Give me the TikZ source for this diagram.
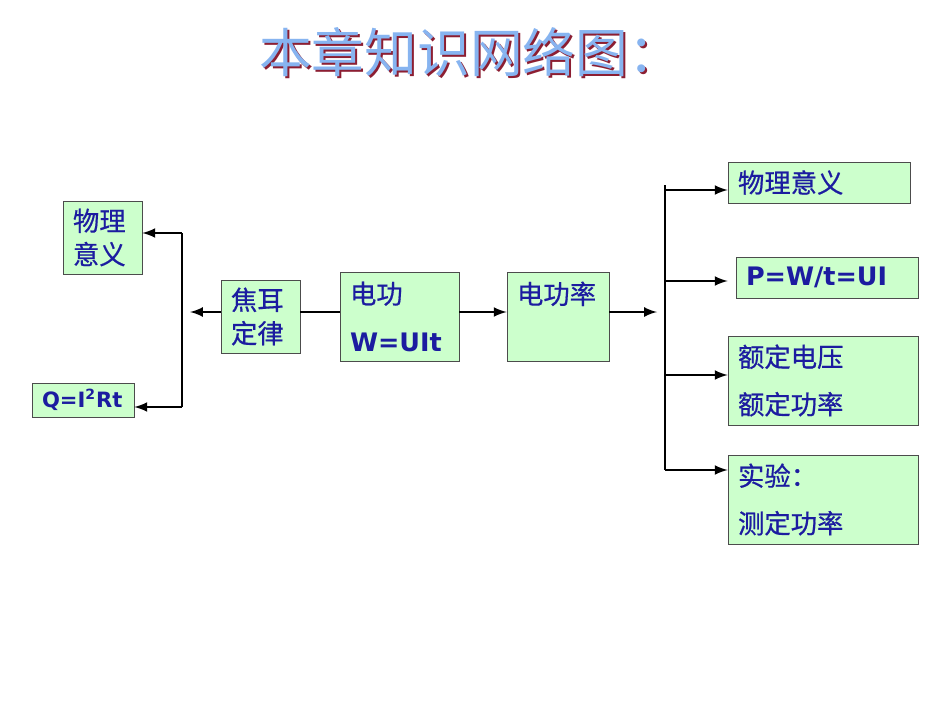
\documentclass[tikz,border=0pt]{standalone}
\usepackage{fontspec}
\setmainfont{DejaVu Sans}
\newfontfamily\cjk[FakeBold=0.6]{Noto Sans CJK SC}
\newfontfamily\cjktitle{Noto Sans CJK SC}
\newfontfamily\formulafont{DejaVu Sans Bold}
\definecolor{boxgreen}{RGB}{204,255,204}
\definecolor{txtblue}{RGB}{28,28,160}
\definecolor{titleblue}{RGB}{135,180,240}
\definecolor{shadowred}{RGB}{140,30,50}
\begin{document}
\begin{tikzpicture}[every node/.style={align=left}]
\tikzset{
  box/.style={draw=black!70, fill=boxgreen, text=txtblue, inner xsep=0.2cm, inner ysep=0pt, font=\cjk\fontsize{15}{19}\selectfont},
  tall/.style={font=\cjk\fontsize{15}{27}\selectfont},
  formula/.style={font=\formulafont\fontsize{14.5}{21}\selectfont},
  link/.style={line width=1.5pt}
}
\useasboundingbox (0,0) rectangle (19,-14.26);
\node[font=\cjktitle\fontsize{30}{30}\selectfont, text=shadowred] (titleshadow) at (9.44,-1.09) {本章知识网络图：};
\node[font=\cjktitle\fontsize{30}{30}\selectfont, text=titleblue] (title) at (9.4,-1.05) {本章知识网络图：};

\node[box, font=\formulafont\fontsize{12}{14}\selectfont, text width=1.64cm, minimum height=0.68cm] (jiaore) at (1.66,-8.0) {Q=I\textsuperscript{2}Rt};
\node[box, text width=1.18cm, minimum height=1.46cm] (wlleft) at (2.05,-4.75) {物理\\意义};
\node[box, text width=1.18cm, minimum height=1.46cm] (jiaoer) at (5.21,-6.33) {焦耳\\定律};
\node[box, tall, text width=1.98cm, minimum height=1.78cm] (diangong) at (7.99,-6.33) {电功\\{\formulafont\fontsize{14.5}{27}\selectfont W=UIt}};
\node[box, tall, text width=1.64cm, minimum height=1.78cm] (gonglv) at (11.16,-6.33) {电功率\\{\formulafont\fontsize{14.5}{27}\selectfont\vphantom{W}}};
\node[box, text width=3.24cm, minimum height=0.82cm] (yiyi) at (16.38,-3.65) {物理意义};
\node[box, formula, text width=3.24cm, minimum height=0.82cm] (gongshi) at (16.54,-5.55) {P=W/t=UI};
\node[box, tall, text width=3.4cm, minimum height=1.78cm] (eding) at (16.46,-7.61) {额定电压\\额定功率};
\node[box, tall, text width=3.4cm, minimum height=1.78cm] (shiyan) at (16.46,-9.99) {实验：\\测定功率};

% main line
\coordinate (axis) at (0,-6.24);
\coordinate (jl) at (3.8,-6.24);
\coordinate (gr) at (13.14,-6.24);
\draw[link,-latex] (axis -| jiaoer.west) -- (jl);
\draw[link] (axis -| jiaoer.east) -- (axis -| diangong.west);
\draw[link,-latex] (axis -| diangong.east) -- (axis -| gonglv.west);
\draw[link,-latex] (axis -| gonglv.east) -- (gr);

% left branch
\coordinate (lt) at (3.64,-4.66);
\coordinate (lb) at (3.64,-8.14);
\draw[link] (lt) -- (lb);
\draw[link,-latex] (lt) -- (lt -| wlleft.east);
\draw[link,-latex] (lb) -- (lb -| jiaore.east);

% right branch
\coordinate (rt) at (13.3,-3.7);
\coordinate (b1) at (13.3,-3.8);
\coordinate (b2) at (13.3,-5.62);
\coordinate (b3) at (13.3,-7.5);
\coordinate (b4) at (13.3,-9.4);
\draw[link] (rt) -- (b4);
\draw[link,-latex] (b1) -- (b1 -| yiyi.west);
\draw[link,-latex,shorten >=0.16cm] (b2) -- (b2 -| gongshi.west);
\draw[link,-latex] (b3) -- (b3 -| eding.west);
\draw[link,-latex] (b4) -- (b4 -| shiyan.west);
\end{tikzpicture}
\end{document}
